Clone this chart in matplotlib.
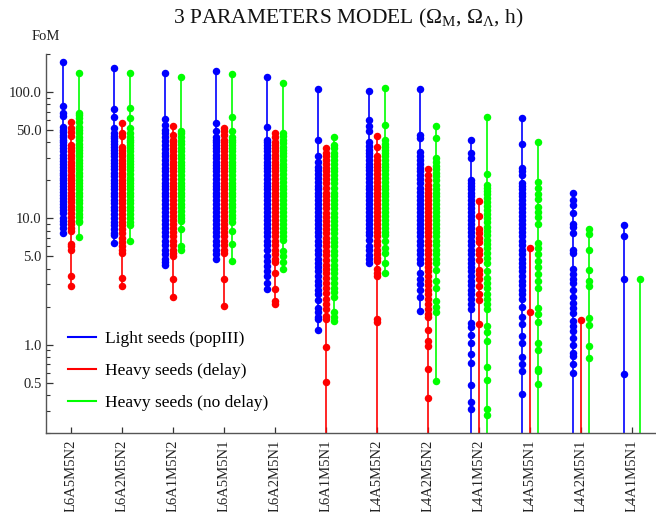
import numpy as np
import matplotlib
matplotlib.use("Agg")
import matplotlib.pyplot as plt
from matplotlib.lines import Line2D
from matplotlib.ticker import FixedLocator, LogLocator, NullFormatter

plt.rcParams["font.family"] = ["Liberation Serif", "DejaVu Serif"]
plt.rcParams["mathtext.fontset"] = "custom"
plt.rcParams["mathtext.rm"] = "Liberation Serif"
plt.rcParams["mathtext.it"] = "Liberation Serif:italic"

categories = ["L6A5M5N2", "L6A2M5N2", "L6A1M5N2", "L6A5M5N1", "L6A2M5N1", "L6A1M5N1",
              "L4A5M5N2", "L4A2M5N2", "L4A1M5N2", "L4A5M5N1", "L4A2M5N1", "L4A1M5N1"]

series_names = ["Light seeds (popIII)", "Heavy seeds (delay)", "Heavy seeds (no delay)"]

# FoM values per catalogue; 0.01 entries sit below the plotted range
light_seeds = [
    [172, 77, 68, 65, 53, 50, 48, 46, 44, 42, 40, 38, 36, 34, 32, 30, 28.5, 27, 25.5, 24, 23, 22, 21, 20, 19, 18, 17,
     16.2, 15.4, 14.6, 13.8, 13, 12.3, 11.6, 11, 10, 9.5, 9, 8.4, 7.7],
    [154, 73, 63, 52, 47, 45, 43, 41, 39, 37, 35, 33, 31, 29, 27.5, 26, 24.5, 23, 21.5, 20, 19, 18, 17, 16, 15, 14,
     13.2, 12.4, 11.6, 10.8, 10, 9.4, 8.8, 8.2, 7.6, 7.4, 6.4],
    [142, 61, 55, 50, 47, 44, 41, 38, 35.5, 33, 31, 29, 27, 25, 23.5, 22, 20.5, 19, 18, 17, 16, 15, 14, 13, 12, 11.2,
     10.4, 9.7, 9, 8.4, 7.8, 7.2, 6.6, 6.1, 5.6, 5.2, 4.8, 4.5, 4.3],
    [147, 57, 49, 44, 42, 40, 38, 36, 34, 32, 30, 28, 26.5, 25, 23.5, 22, 20.5, 19, 18, 17, 16, 15, 14, 13, 12, 11.2,
     10.4, 9.7, 9, 8.4, 7.8, 7.2, 6.6, 6.1, 5.6, 5.2, 4.8],
    [131, 53, 42, 40, 38, 36, 34, 32, 30, 28, 26.5, 25, 23.5, 22, 20.5, 19, 18, 17, 16, 15, 14, 13, 12, 11.2, 10.4,
     9.7, 9, 8.4, 7.8, 7.2, 6.6, 6.1, 5.6, 5.0, 4.6, 4.2, 3.8, 3.5, 3.1, 2.75],
    [106, 42, 31, 28, 25.7, 24, 22.5, 21, 19.5, 18, 17, 16, 15, 14, 13, 12, 11.2, 10.4, 9.7, 9, 8.4, 7.8, 7.2, 6.6,
     6.1, 5.6, 5.2, 4.8, 4.4, 4.1, 3.8, 3.5, 3.2, 2.95, 2.7, 2.5, 2.26, 1.95, 1.8, 1.65, 1.6, 1.3],
    [102, 60, 53.5, 49, 40, 37.5, 35, 33, 31, 29, 27, 25.5, 24, 22.5, 21, 19.5, 18.2, 17, 16, 15, 14, 13, 12, 11.2,
     10.4, 9.7, 9, 8.4, 7.8, 7.4, 6.8, 6.0, 5.6, 5.1, 4.8, 4.4],
    [105, 46, 43, 33.6, 31, 29, 27, 25, 23.5, 22, 20.5, 19, 17.5, 16.2, 15, 14, 13, 12, 11.2, 10.4, 9.7, 9, 8.4, 7.8,
     7.2, 6.6, 6.1, 5.6, 5.2, 4.8, 4.4, 3.7, 3.3, 3.0, 2.7, 2.4, 1.85],
    [42, 33, 30, 20, 19, 18, 17, 16, 15, 14, 13, 12, 11.2, 10.4, 9.7, 9, 8.4, 7.8, 7.2, 6.6, 6.1, 5.6, 5.2, 4.8, 4.4,
     4.1, 3.8, 3.5, 3.2, 2.95, 2.7, 2.5, 2.3, 2.1, 1.9, 1.48, 1.38, 1.2, 1.03, 0.84, 0.72, 0.48, 0.35, 0.31, 0.01],
    [62, 38.6, 25, 23.5, 22, 19, 18, 17, 16, 15, 14, 13, 12, 11.2, 10.4, 9.7, 9, 8.4, 7.8, 7.2, 6.6, 6.1, 5.6, 5.2,
     4.8, 4.4, 4.1, 3.8, 3.5, 3.2, 2.95, 2.7, 2.5, 2.3, 2.0, 1.67, 1.45, 1.18, 1.03, 0.8, 0.7, 0.62, 0.41, 0.01],
    [15.9, 14.0, 12.7, 11, 9.0, 8.5, 7.7, 5.6, 5.3, 4.0, 3.6, 3.3, 3.07, 2.7, 2.4, 2.15, 1.95, 1.78, 1.55, 1.4, 1.28,
     1.13, 1.0, 0.86, 0.81, 0.7, 0.6, 0.01],
    [8.9, 7.2, 3.3, 0.59, 0.01],
]

heavy_delay = [
    [57.5, 52, 48, 45, 38, 36, 34, 32, 30, 28, 26.5, 25, 23.5, 22, 21, 20, 19, 18, 17, 16, 15, 14.2, 13.4, 12.6,
     11.8, 11, 10.3, 9.6, 9, 8.4, 8, 6.3, 6.0, 5.6, 3.5, 2.9],
    [56.5, 47, 45, 37, 35, 33, 31, 29, 27.5, 26, 24.5, 23, 21.5, 20, 19, 18, 17, 16, 15, 14, 13.2, 12.4, 11.6, 10.8,
     10, 9.4, 8.8, 8.2, 7.6, 7, 6.5, 6, 5.6, 5.3, 3.4, 2.9],
    [54, 46, 42, 40, 38, 36, 34, 32, 30, 28, 26.5, 25, 23.5, 22, 20.5, 19, 18, 17, 16, 15, 14, 13, 12, 11.2, 10.4,
     9.7, 9, 8.4, 7.8, 7.2, 6.6, 6.1, 5.6, 5.3, 5.0, 3.3, 2.37],
    [52, 49, 46, 42, 40, 38, 36, 34, 32, 30, 28, 26.5, 25, 23.5, 22, 20.5, 19, 18, 17, 16, 15, 14, 13, 12, 11.2,
     10.4, 9.7, 9, 8.4, 7.8, 7.2, 6.6, 6.1, 5.6, 5.3, 3.3, 2.04],
    [47.6, 44, 40, 38, 36, 34, 32, 30, 28, 26.5, 25, 23.5, 22, 20.5, 19, 18, 17, 16, 15, 14, 13, 12, 11.2, 10.4,
     9.7, 9, 8.4, 7.8, 7.2, 6.6, 6.1, 5.6, 5.2, 4.8, 4.5, 3.7, 2.75, 2.2, 2.1],
    [36, 33, 31, 29, 27, 25, 23.5, 22, 20.5, 19, 17.5, 16, 15, 14, 13, 12, 11, 10.2, 9.5, 8.8, 8.2, 7.6, 7, 6.5, 6,
     5.5, 5.1, 4.7, 4.3, 4, 3.7, 3.4, 3.1, 2.8, 2.55, 2.3, 2.1, 1.9, 1.7, 1.6, 0.96, 0.51, 0.01],
    [44.6, 37, 31, 29, 27, 25.5, 24, 22.5, 21, 19.5, 18.2, 17, 16, 15, 14, 13, 12, 11.2, 10.4, 9.7, 9, 8.4, 7.8,
     7.2, 6.6, 6.1, 5.6, 5.2, 4.9, 4.6, 4.0, 3.7, 3.5, 1.6, 1.5, 0.01],
    [24.8, 22, 20, 18.5, 17, 16, 15, 14, 13, 12, 11.2, 10.4, 9.7, 9, 8.4, 7.8, 7.2, 6.6, 6.1, 5.6, 5.2, 4.8, 4.4,
     4.1, 3.8, 3.5, 3.2, 2.95, 2.7, 2.5, 2.3, 2.1, 1.9, 1.75, 1.67, 1.3, 1.07, 0.97, 0.64, 0.38, 0.01],
    [13.8, 10.4, 8.2, 7.6, 7.0, 6.5, 5.6, 5.2, 4.7, 3.9, 3.6, 3.3, 2.9, 2.5, 2.27, 1.45, 0.01],
    [5.8, 1.8, 0.01],
    [1.57, 0.01],
    [],
]

heavy_no_delay = [
    [142, 68, 66, 62, 58, 53, 50, 47, 44, 41.5, 39, 37, 35, 33, 31, 29, 27.5, 26, 24.5, 23, 21.5, 20, 19, 18, 17,
     16, 15, 14, 13.2, 12.4, 11.6, 10.8, 10.2, 9.6, 9.3, 7.1],
    [142, 75, 62, 52, 47, 44, 42, 40, 38, 36, 34, 32, 30, 28.5, 27, 25.5, 24, 22.5, 21, 20, 19, 18, 17, 16, 15, 14,
     13.2, 12.4, 11.6, 10.8, 10, 9.4, 8.8, 6.6],
    [131, 49, 47, 44, 41, 38.5, 36, 34, 32, 30, 28, 26.5, 25, 23.5, 22, 20.5, 19, 18, 17, 16, 15, 14, 13, 12.2,
     11.4, 10.6, 10, 9.5, 8.3, 6.0, 5.6],
    [139, 63, 49, 44, 42, 40, 38, 36, 34, 32, 30, 28, 26.5, 25, 23.5, 22, 20.5, 19, 18, 17, 16, 15, 14, 13, 12.2,
     11.4, 10.6, 10, 9.3, 8.0, 6.3, 4.6],
    [118, 47.6, 45, 42, 39.5, 37, 35, 33, 31, 29, 27, 25.5, 24, 22.5, 21, 19.5, 18, 17, 16, 15, 14, 13, 12, 11.2,
     10.4, 9.7, 9, 8.4, 7.8, 7.2, 6.8, 5.5, 5.0, 4.5, 4.0],
    [44, 38, 36, 33, 31, 29, 27, 25, 23.5, 22, 20.5, 19, 17.5, 16, 15, 14, 13, 12, 11, 10.2, 9.5, 8.8, 8.2, 7.6, 7,
     6.5, 6, 5.5, 5.1, 4.7, 4.3, 4, 3.7, 3.4, 3.1, 2.8, 2.6, 2.4, 1.8, 1.65, 1.55],
    [107, 55, 42, 39, 37, 35, 33, 31, 29, 27, 25.5, 24, 22.5, 21, 19.5, 18.2, 17, 16, 15, 14, 13, 12, 11.2, 10.4,
     9.7, 9, 8.4, 7.8, 7.4, 6.6, 5.8, 5.3, 4.4, 3.7],
    [53.5, 43, 30, 28, 26, 24.5, 23, 21.5, 20, 18.5, 17, 16, 15, 14, 13, 12, 11.2, 10.4, 9.7, 9, 8.4, 7.8, 7.2, 6.6,
     6.1, 5.6, 5.2, 4.8, 4.4, 3.9, 3.2, 2.8, 2.2, 2.0, 1.8, 0.52],
    [64, 22.5, 18.5, 17.5, 16.5, 15.5, 14.5, 13.5, 12.5, 11.6, 10.8, 10, 9.3, 8.6, 8, 7.4, 6.8, 6.3, 5.8, 5.3, 4.9,
     4.4, 3.8, 3.4, 3.1, 2.8, 2.5, 2.3, 2.1, 1.9, 1.4, 1.25, 1.07, 0.66, 0.53, 0.31, 0.28, 0.01],
    [40, 19.5, 17.5, 15.5, 14.2, 12.3, 11.3, 10.3, 9.1, 6.4, 5.8, 5.2, 4.6, 4.1, 3.6, 3.2, 2.8, 1.95, 1.75, 1.5,
     1.03, 0.91, 0.64, 0.62, 0.49, 0.01],
    [8.2, 7.5, 5.6, 3.9, 3.2, 2.9, 1.63, 1.42, 0.97, 0.78, 0.01],
    [3.3, 0.01],
]

y_ticks = [0.5, 1.0, 5.0, 10.0, 50.0, 100.0]
y_tick_labels = ["0.5", "1.0", "5.0", "10.0", "50.0", "100.0"]

colors = ["#0000ff", "#ff0000", "#00ff00"]
offsets = [-0.16, 0.0, 0.16]

fig = plt.figure(figsize=(6.56, 5.12), dpi=100)
ax = fig.add_axes([46 / 656, 1 - 433 / 512, 1 - 46 / 656, (433 - 54) / 512])

for series, color, dx in zip([light_seeds, heavy_delay, heavy_no_delay], colors, offsets):
    for i, vals in enumerate(series):
        if not vals:
            continue
        v = np.sort(np.asarray(vals, dtype=float))
        ax.plot(np.full(v.size, i + dx), v, "-o", color=color, lw=1.2, ms=5.4, mew=0)

ax.set_yscale("log")
ax.set_ylim(0.2, 200)
ax.set_xlim(-0.49, len(categories) - 0.53)

ax.yaxis.set_major_locator(FixedLocator(y_ticks))
ax.set_yticklabels(y_tick_labels)
ax.yaxis.set_minor_locator(LogLocator(base=10, subs=np.arange(2, 10)))
ax.yaxis.set_minor_formatter(NullFormatter())

ax.set_xticks(range(len(categories)))
ax.set_xticklabels(categories, rotation=90, fontsize=10.5, color="#222222")

spine_color = "#555555"
for side in ("top", "right"):
    ax.spines[side].set_visible(False)
for side in ("left", "bottom"):
    ax.spines[side].set_color(spine_color)
    ax.spines[side].set_linewidth(1.0)

ax.tick_params(axis="y", which="major", direction="in", length=5, width=0.9, color="#333333",
               labelsize=10.5, labelcolor="#222222", pad=3)
ax.tick_params(axis="y", which="minor", direction="in", length=3, width=0.8, color="#333333")
ax.tick_params(axis="x", which="major", direction="in", length=4, width=0.9, color="#333333", pad=5)

fig.text(46 / 656, 1 - 37 / 512, "FoM", ha="center", va="center", fontsize=10.5, color="#222222")
fig.text(348 / 656, 1 - 18 / 512, r"3 PARAMETERS MODEL ($\mathrm{\Omega_M}$, $\mathrm{\Omega_\Lambda}$, h)",
         ha="center", va="center", fontsize=15.5, color="#111111")

handles = [Line2D([0], [0], color=c, lw=1.5) for c in colors]
ax.legend(handles, series_names, loc="upper left", bbox_to_anchor=(68 / 656, 1 - 331 / 512),
          bbox_transform=fig.transFigure, frameon=False, fontsize=12.5, borderpad=0, borderaxespad=0,
          handlelength=1.6, handletextpad=0.55, labelspacing=0.9)

fig.savefig("out.png", dpi=100)
